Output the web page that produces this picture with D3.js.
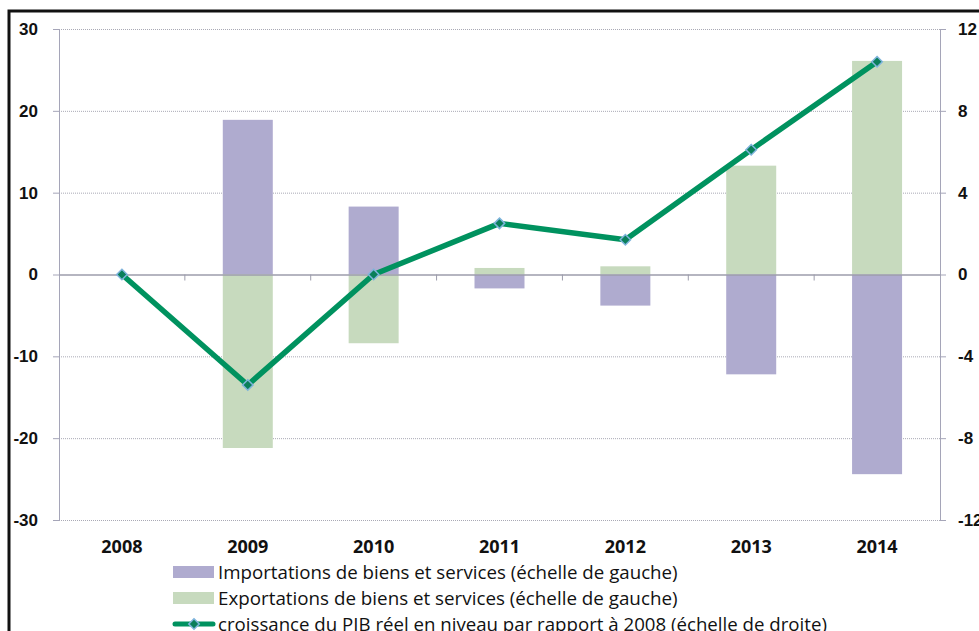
<!DOCTYPE html>
<html>
<head>
<meta charset="utf-8">
<script src="https://cdn.jsdelivr.net/npm/d3@7"></script>
<style>
  body { margin: 0; background: #fff; }
  svg { display: block; font-family: "Open Sans", "DejaVu Sans", sans-serif; }
</style>
</head>
<body>
<svg id="chart" width="979" height="631"></svg>
<script>
// values
var years = ["2008", "2009", "2010", "2011", "2012", "2013", "2014"];
var imports = [0, 18.9, 8.3, -1.7, -3.8, -12.2, -24.4];
var exports = [0, -21.2, -8.4, 0.8, 1.0, 13.3, 26.1];
var growth = [0, -5.4, 0, 2.5, 1.7, 6.1, 10.4];
var leftTicks = [-30, -20, -10, 0, 10, 20, 30];
var rightTicks = [-12, -8, -4, 0, 4, 8, 12];
var legendLabels = [
  "Importations de biens et services (échelle de gauche)",
  "Exportations de biens et services (échelle de gauche)",
  "croissance du PIB réel en niveau par rapport à 2008 (échelle de droite)"
];

var svg = d3.select("#chart"),
  margin = { top: 29, right: 39, bottom: 111, left: 59 },
  width = +svg.attr("width") - margin.left - margin.right,
  height = +svg.attr("height") - margin.top - margin.bottom;

var impColor = "#afabcf", expColor = "#c7dabe", lineColor = "#00925f";
var plain = function(d) { return String(d); }; // hyphen, not unicode minus

var x = d3.scaleBand().domain(years).range([0, width]);
var y = d3.scaleLinear().domain([-30, 30]).range([height, 0]);
var y2 = d3.scaleLinear().domain([-12, 12]).range([height, 0]);

// frame of the picture
svg.append("path")
  .attr("d", "M9,631V11H979")
  .attr("fill", "none")
  .attr("stroke", "#111")
  .attr("stroke-width", 3);

var g = svg.append("g")
  .attr("transform", "translate(" + margin.left + "," + margin.top + ")");

// grid
g.append("g").selectAll("line")
  .data(leftTicks.filter(function(d) { return d !== 0; }))
  .join("line")
  .attr("x1", 0).attr("x2", width)
  .attr("y1", function(d) { return y(d) + 0.5; })
  .attr("y2", function(d) { return y(d) + 0.5; })
  .attr("stroke", "#a9a9b5")
  .attr("stroke-dasharray", "1,1");

// bars
var bw = 50;
g.append("g").selectAll("rect")
  .data(imports)
  .join("rect")
  .attr("x", function(d, i) { return x(years[i]) + x.bandwidth() / 2 - bw / 2; })
  .attr("width", bw)
  .attr("y", function(d) { return y(Math.max(0, d)); })
  .attr("height", function(d) { return Math.abs(y(d) - y(0)); })
  .attr("fill", impColor);

g.append("g").selectAll("rect")
  .data(exports)
  .join("rect")
  .attr("x", function(d, i) { return x(years[i]) + x.bandwidth() / 2 - bw / 2; })
  .attr("width", bw)
  .attr("y", function(d) { return y(Math.max(0, d)); })
  .attr("height", function(d) { return Math.abs(y(d) - y(0)); })
  .attr("fill", expColor);

// left axis
var yAxis = d3.axisLeft(y).tickValues(leftTicks).tickFormat(plain).tickSize(6).tickPadding(15);
var ya = g.append("g").call(yAxis);
ya.select(".domain").attr("stroke", "#a5a5b8");
ya.selectAll(".tick line").attr("stroke", "#a5a5b8");
ya.selectAll("text")
  .attr("fill", "#111")
  .style("font-size", "17px")
  .style("font-weight", "bold");

// right axis
var yAxis2 = d3.axisRight(y2).tickValues(rightTicks).tickFormat(plain).tickSize(6).tickPadding(12);
var yb = g.append("g").attr("transform", "translate(" + width + ",0)").call(yAxis2);
yb.select(".domain").attr("stroke", "#a5a5b8");
yb.selectAll(".tick line").attr("stroke", "#a5a5b8");
yb.selectAll("text")
  .attr("fill", "#111")
  .style("font-size", "17px")
  .style("font-weight", "bold");

// zero line with category ticks
var xAxis = d3.axisBottom(x).tickSize(0).tickFormat("");
var xa = g.append("g").attr("transform", "translate(0," + y(0) + ")").call(xAxis);
xa.select(".domain").attr("stroke", "#9c9cab").attr("stroke-width", 1.5);
xa.selectAll(".sep")
  .data(years.slice(1))
  .join("line")
  .attr("class", "sep")
  .attr("x1", function(d) { return x(d); })
  .attr("x2", function(d) { return x(d); })
  .attr("y1", 0).attr("y2", 6)
  .attr("stroke", "#9c9cab");

// year labels
g.append("g").selectAll("text")
  .data(years)
  .join("text")
  .attr("x", function(d) { return x(d) + x.bandwidth() / 2; })
  .attr("y", height + 33)
  .attr("text-anchor", "middle")
  .style("font-size", "18px")
  .style("font-weight", "bold")
  .attr("fill", "#111")
  .text(function(d) { return d; });

// line
var line = d3.line()
  .x(function(d, i) { return x(years[i]) + x.bandwidth() / 2; })
  .y(function(d) { return y2(d); });

g.append("path")
  .datum(growth)
  .attr("d", line)
  .attr("fill", "none")
  .attr("stroke", lineColor)
  .attr("stroke-width", 5.5)
  .attr("stroke-linejoin", "round");

var diamond = d3.symbol().type(d3.symbolDiamond2).size(70);
g.append("g").selectAll("path")
  .data(growth)
  .join("path")
  .attr("d", diamond)
  .attr("transform", function(d, i) {
    return "translate(" + (x(years[i]) + x.bandwidth() / 2) + "," + y2(d) + ")";
  })
  .attr("fill", "#0a7f5a")
  .attr("stroke", "#7fb4dc")
  .attr("stroke-width", 1.5);

// legend
var legend = svg.append("g").attr("transform", "translate(173,572)");
var rows = legend.selectAll("g")
  .data(legendLabels)
  .join("g")
  .attr("transform", function(d, i) { return "translate(0," + (i * 26) + ")"; });

rows.each(function(d, i) {
  var r = d3.select(this);
  if (i < 2) {
    r.append("rect")
      .attr("x", 0).attr("y", -6)
      .attr("width", 41).attr("height", 12)
      .attr("fill", i === 0 ? impColor : expColor);
  } else {
    r.append("line")
      .attr("x1", 2).attr("x2", 40)
      .attr("y1", 0).attr("y2", 0)
      .attr("stroke", lineColor)
      .attr("stroke-width", 5)
      .attr("stroke-linecap", "round");
    r.append("path")
      .attr("d", diamond)
      .attr("transform", "translate(21,0)")
      .attr("fill", "#0a7f5a")
      .attr("stroke", "#7fb4dc")
      .attr("stroke-width", 1.5);
  }
  r.append("text")
    .attr("x", 45)
    .attr("dy", "0.35em")
    .style("font-size", "16px")
    .attr("fill", "#111")
    .text(d);
});

// fit legend text to the width it has in the picture
var legendWidths = [460, 460, 609];
rows.selectAll("text").each(function(d) {
  var idx = legendLabels.indexOf(d);
  var w = this.getComputedTextLength();
  var fs = 16 * legendWidths[idx] / w;
  d3.select(this).style("font-size", fs.toFixed(2) + "px");
});
</script>
</body>
</html>
